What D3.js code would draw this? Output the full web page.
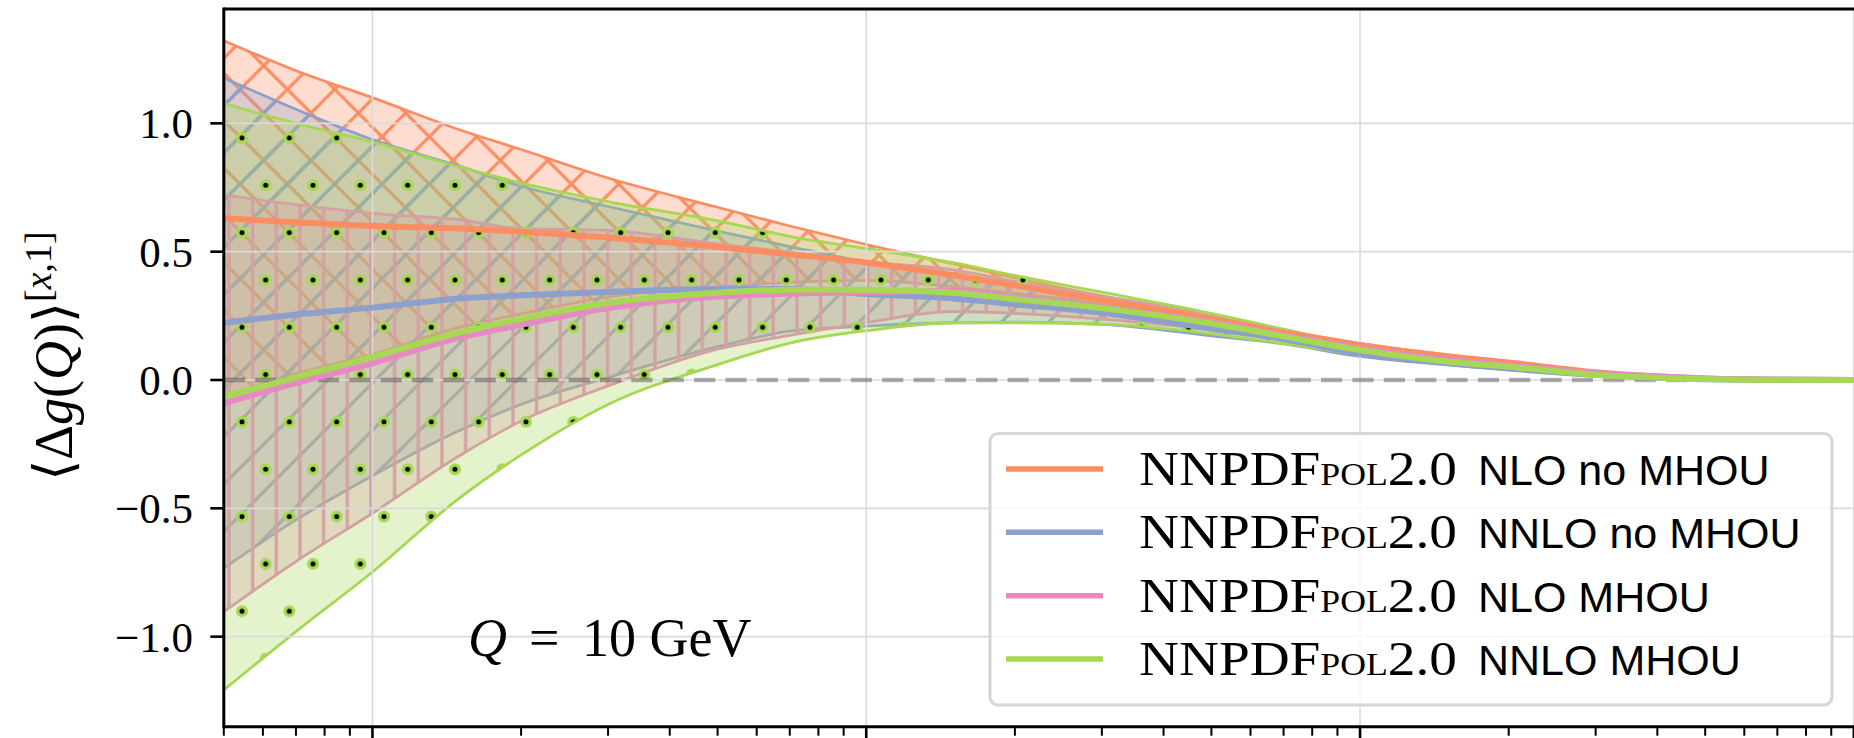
<!DOCTYPE html>
<html>
<head>
<meta charset="utf-8">
<script src="https://cdn.jsdelivr.net/npm/d3@7"></script>
<style>
  html, body { margin: 0; padding: 0; background: #ffffff; }
  svg { display: block; }
</style>
</head>
<body>
<svg id="chart" width="1854" height="738"></svg>
<script>
// Lower integration limit x of the truncated moment <Δg(Q)>^[x,1]
const xValues = [5e-4, 7e-4, 1e-3, 1.5e-3, 2e-3, 3e-3, 5e-3, 7e-3, 1e-2, 1.5e-2, 2e-2,
                 3e-2, 5e-2, 7e-2, 0.1, 0.15, 0.2, 0.3, 0.5, 0.7, 1.0];

// NNPDFpol2.0 NLO no MHOU: central value and 1σ half-width
const nloNoMhouCentral = [0.630, 0.615, 0.600, 0.590, 0.578, 0.555, 0.518, 0.490, 0.458, 0.408, 0.368,
                          0.312, 0.238, 0.185, 0.136, 0.093, 0.068, 0.030, 0.006, 0.001, 0.000];
const nloNoMhouError   = [0.692, 0.590, 0.500, 0.385, 0.320, 0.232, 0.155, 0.110, 0.070, 0.045, 0.030,
                          0.016, 0.010, 0.008, 0.007, 0.005, 0.004, 0.002, 0.001, 0.000, 0.000];

// NNPDFpol2.0 NNLO no MHOU
const nnloNoMhouCentral = [0.222, 0.255, 0.282, 0.318, 0.330, 0.343, 0.355, 0.355, 0.335, 0.318, 0.295,
                           0.262, 0.200, 0.160, 0.104, 0.066, 0.045, 0.020, 0.004, 0.001, 0.000];
const nnloNoMhouError   = [0.955, 0.800, 0.655, 0.515, 0.425, 0.333, 0.225, 0.165, 0.125, 0.095, 0.070,
                           0.045, 0.028, 0.019, 0.012, 0.007, 0.005, 0.003, 0.001, 0.000, 0.000];

// NNPDFpol2.0 NLO MHOU
const nloMhouCentral = [-0.091, -0.012, 0.065, 0.165, 0.215, 0.280, 0.325, 0.336, 0.342, 0.348, 0.322,
                        0.282, 0.225, 0.175, 0.123, 0.080, 0.058, 0.027, 0.006, 0.001, 0.000];
const nloMhouError   = [0.812, 0.695, 0.584, 0.460, 0.375, 0.303, 0.205, 0.162, 0.118, 0.081, 0.062,
                        0.045, 0.030, 0.020, 0.013, 0.008, 0.005, 0.003, 0.001, 0.000, 0.000];

// NNPDFpol2.0 NNLO MHOU
const nnloMhouCentral = [-0.065, 0.010, 0.090, 0.185, 0.238, 0.300, 0.340, 0.352, 0.352, 0.340, 0.315,
                         0.280, 0.220, 0.170, 0.117, 0.072, 0.052, 0.020, 0.004, 0.001, 0.000];
const nnloMhouError   = [1.143, 0.990, 0.838, 0.645, 0.530, 0.395, 0.280, 0.208, 0.160, 0.117, 0.092,
                         0.062, 0.040, 0.028, 0.018, 0.010, 0.007, 0.004, 0.001, 0.000, 0.000];

const seriesLabels = ["NLO no MHOU", "NNLO no MHOU", "NLO MHOU", "NNLO MHOU"];
const seriesColors = ["#fc8d62", "#8da0cb", "#e78ac3", "#a6d854"];
const seriesHatches = ["hatch-cross", "hatch-diag", "hatch-vert", "hatch-dots"];
const yTickValues = [-1.0, -0.5, 0.0, 0.5, 1.0];
const yTickLabels = ["\u22121.0", "\u22120.5", "0.0", "0.5", "1.0"];
const xMajorTicks = [1e-3, 1e-2, 1e-1, 1];
const scaleLabel = "10 GeV";

// ---- layout ----
const plotLeft = 223.8, plotTop = 9, plotBottom = 726.7;
const pxPerDecade = 493.8;
const xMin = 5e-4, xMax = 1.1;
const x = d3.scaleLog().domain([xMin, xMax])
  .range([plotLeft, plotLeft + pxPerDecade * Math.log10(xMax / xMin)]);
const y = d3.scaleLinear().domain([-1.3508, 1.4455]).range([plotBottom, plotTop]);

const svg = d3.select("#chart");
const defs = svg.append("defs");

defs.append("clipPath").attr("id", "plot-clip")
  .append("rect")
  .attr("x", plotLeft).attr("y", plotTop)
  .attr("width", 1854 - plotLeft).attr("height", plotBottom - plotTop);

// ---- hatch patterns ----
const s = 47.33;
function crossPath(dir) {
  const e = 6;
  if (dir === "ne") {
    return `M${-e},${s + e}L${s + e},${-e}M${-e},${e}L${e},${-e}M${s - e},${s + e}L${s + e},${s - e}`;
  }
  return `M${-e},${-e}L${s + e},${s + e}M${-e},${s - e}L${e},${s + e}M${s - e},${-e}L${s + e},${e}`;
}
const pCross = defs.append("pattern").attr("id", "hatch-cross")
  .attr("patternUnits", "userSpaceOnUse")
  .attr("x", 3.39).attr("y", -5.29).attr("width", s).attr("height", s);
pCross.append("path").attr("d", crossPath("ne") + crossPath("nw"))
  .attr("stroke", seriesColors[0]).attr("stroke-width", 3.3).attr("fill", "none");

const pDiag = defs.append("pattern").attr("id", "hatch-diag")
  .attr("patternUnits", "userSpaceOnUse")
  .attr("x", 3.39).attr("y", -5.29).attr("width", s).attr("height", s);
pDiag.append("path").attr("d", crossPath("ne"))
  .attr("stroke", seriesColors[1]).attr("stroke-width", 3.3).attr("fill", "none");

const pVert = defs.append("pattern").attr("id", "hatch-vert")
  .attr("patternUnits", "userSpaceOnUse")
  .attr("x", 4.14).attr("y", 0).attr("width", s / 2).attr("height", 20);
pVert.append("line").attr("x1", s / 4).attr("x2", s / 4).attr("y1", -2).attr("y2", 22)
  .attr("stroke", seriesColors[2]).attr("stroke-width", 3.3);

const pDots = defs.append("pattern").attr("id", "hatch-dots")
  .attr("patternUnits", "userSpaceOnUse")
  .attr("x", 230.17).attr("y", 303.6).attr("width", s).attr("height", 2 * s);
[[s / 4, s / 2], [3 * s / 4, 1.5 * s]].forEach(([cx, cy]) => {
  pDots.append("circle").attr("cx", cx).attr("cy", cy).attr("r", 6).attr("fill", seriesColors[3]);
  pDots.append("circle").attr("cx", cx).attr("cy", cy).attr("r", 2.5).attr("fill", "#000");
});

// ---- series ----
const centrals = [nloNoMhouCentral, nnloNoMhouCentral, nloMhouCentral, nnloMhouCentral];
const errors = [nloNoMhouError, nnloNoMhouError, nloMhouError, nnloMhouError];
const series = seriesLabels.map((label, k) => ({
  label,
  color: seriesColors[k],
  hatch: seriesHatches[k],
  points: xValues.map((xv, i) => ({ x: xv, c: centrals[k][i], e: errors[k][i] }))
}));

const area = d3.area()
  .x(d => x(d.x)).y0(d => y(d.c - d.e)).y1(d => y(d.c + d.e))
  .curve(d3.curveMonotoneX);
const line = d3.line()
  .x(d => x(d.x)).y(d => y(d.c))
  .curve(d3.curveMonotoneX);

const plot = svg.append("g").attr("clip-path", "url(#plot-clip)");

// uncertainty bands: translucent fill, hatch, outline
series.forEach(sr => {
  const g = plot.append("g");
  const d = area(sr.points);
  g.append("path").attr("d", d).attr("fill", sr.color).attr("fill-opacity", 0.3);
  g.append("path").attr("d", d).attr("fill", `url(#${sr.hatch})`);
  g.append("path").attr("d", d).attr("fill", "none")
    .attr("stroke", sr.color).attr("stroke-width", 2.8);
});

// grid
const grid = plot.append("g").attr("stroke", "#dadada").attr("stroke-width", 1.6);
yTickValues.forEach(v => {
  grid.append("line").attr("x1", plotLeft).attr("x2", 1854).attr("y1", y(v)).attr("y2", y(v));
});
xMajorTicks.forEach(v => {
  grid.append("line").attr("x1", x(v)).attr("x2", x(v)).attr("y1", plotTop).attr("y2", plotBottom);
});

// zero reference
plot.append("line")
  .attr("x1", x(xMin)).attr("x2", x(xMax)).attr("y1", y(0)).attr("y2", y(0))
  .attr("stroke", "#000").attr("stroke-opacity", 0.3).attr("stroke-width", 4.6)
  .attr("stroke-dasharray", "21.2,10.15");

// central values
series.forEach(sr => {
  plot.append("path").attr("d", line(sr.points)).attr("fill", "none")
    .attr("stroke", sr.color).attr("stroke-width", 6).attr("stroke-linejoin", "round");
});

// ---- axes ----
const axes = svg.append("g").attr("stroke", "#000");
axes.append("line").attr("x1", plotLeft).attr("x2", plotLeft)
  .attr("y1", plotTop - 1.5).attr("y2", plotBottom + 1.5).attr("stroke-width", 3);
axes.append("line").attr("x1", plotLeft).attr("x2", 1854)
  .attr("y1", plotTop).attr("y2", plotTop).attr("stroke-width", 3);
axes.append("line").attr("x1", plotLeft).attr("x2", 1854)
  .attr("y1", plotBottom).attr("y2", plotBottom).attr("stroke-width", 3);

yTickValues.forEach(v => {
  axes.append("line").attr("x1", plotLeft - 13.5).attr("x2", plotLeft).attr("y1", y(v)).attr("y2", y(v))
    .attr("stroke-width", 2.6);
});
const minorTicks = [];
for (let e = -4; e <= 0; e++) {
  for (let k = 2; k <= 9; k++) {
    const v = k * Math.pow(10, e);
    if (v >= xMin && v <= xMax) minorTicks.push(v);
  }
}
minorTicks.forEach(v => {
  axes.append("line").attr("x1", x(v)).attr("x2", x(v)).attr("y1", plotBottom).attr("y2", plotBottom + 9)
    .attr("stroke-width", 2);
});
xMajorTicks.forEach(v => {
  axes.append("line").attr("x1", x(v)).attr("x2", x(v)).attr("y1", plotBottom).attr("y2", plotBottom + 14)
    .attr("stroke-width", 2.6);
});

const serif = "'Liberation Serif', 'DejaVu Serif', serif";
svg.append("g").selectAll("text").data(yTickValues).join("text")
  .attr("x", 193).attr("y", v => y(v) + 15)
  .attr("text-anchor", "end")
  .attr("font-family", serif).attr("font-size", 43)
  .text((v, i) => yTickLabels[i]);

// y-axis title
const ylab = svg.append("text")
  .attr("transform", "translate(72,356) rotate(-90)")
  .attr("text-anchor", "middle")
  .attr("font-family", serif).attr("font-size", 54);
ylab.append("tspan").text("\u27E8\u0394");
ylab.append("tspan").attr("font-style", "italic").text("g");
ylab.append("tspan").text("(");
ylab.append("tspan").attr("font-style", "italic").text("Q");
ylab.append("tspan").text(")\u27E9");
ylab.append("tspan").attr("font-size", 38).attr("dy", -21).text("[");
ylab.append("tspan").attr("font-size", 38).attr("font-style", "italic").text("x");
ylab.append("tspan").attr("font-size", 38).text(",1]");

// scale annotation
const qText = svg.append("text").attr("y", 656)
  .attr("font-family", serif).attr("font-size", 54);
qText.append("tspan").attr("x", 468).attr("font-style", "italic").text("Q");
qText.append("tspan").attr("x", 529).text("=");
qText.append("tspan").attr("x", 582).text(scaleLabel);

// ---- legend ----
const legend = svg.append("g");
legend.append("rect")
  .attr("x", 990).attr("y", 433.5).attr("width", 842).attr("height", 271.5)
  .attr("rx", 8).attr("ry", 8)
  .attr("fill", "#fff").attr("fill-opacity", 0.8)
  .attr("stroke", "#d6d6d6").attr("stroke-width", 3);
series.forEach((sr, i) => {
  const ly = 469 + i * 63.33;
  legend.append("line").attr("x1", 1006).attr("x2", 1103).attr("y1", ly).attr("y2", ly)
    .attr("stroke", sr.color).attr("stroke-width", 5.5);
  const t = legend.append("text").attr("x", 1139).attr("y", ly + 16)
    .attr("font-family", serif).attr("font-size", 48)
    .attr("textLength", 318).attr("lengthAdjust", "spacingAndGlyphs");
  t.append("tspan").text("NNPDF");
  t.append("tspan").attr("font-size", 31).text("POL");
  t.append("tspan").text("2.0");
  legend.append("text").attr("x", 1478).attr("y", ly + 16)
    .attr("font-family", "'Liberation Sans', Arial, sans-serif").attr("font-size", 43)
    .text(sr.label);
});
</script>
</body>
</html>
